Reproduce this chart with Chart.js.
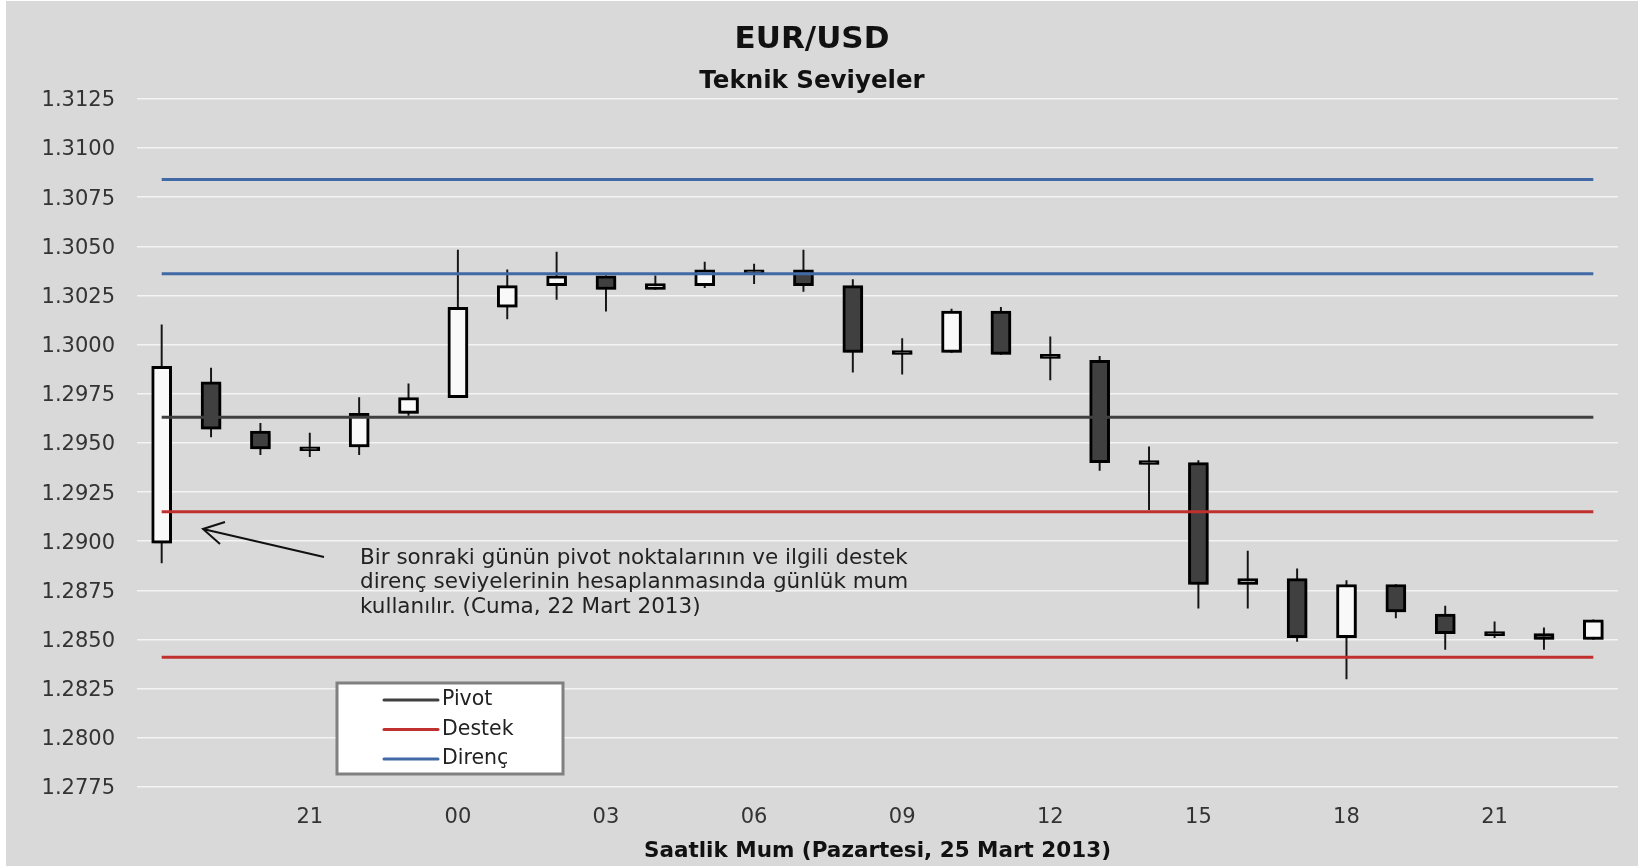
<!DOCTYPE html>
<html>
<head>
<meta charset="utf-8">
<script src="https://cdn.jsdelivr.net/npm/chart.js@4.4.1/dist/chart.umd.min.js"></script>
<style>
    html, body { margin: 0; padding: 0; background: #ffffff; }
    #wrap { position: absolute; left: 6px; top: 1px; width: 1632px; height: 865px; background: #d9d9d9; }
</style>
</head>
<body>
<div id="wrap"><canvas id="pivotChart"></canvas></div>
<script>
// ilk mum: günlük mum (Cuma, 22 Mart 2013), sonrakiler saatlik mumlar
const saatler = ['Cuma', '19', '20', '21', '22', '23', '00', '01', '02', '03', '04', '05', '06', '07', '08',
                 '09', '10', '11', '12', '13', '14', '15', '16', '17', '18', '19', '20', '21', '22', '23'];

const acilis = [1.2899, 1.2981, 1.2956, 1.2948, 1.2948, 1.2965, 1.2973, 1.3019, 1.3030, 1.3035,
                1.3028, 1.3030, 1.3038, 1.3038, 1.3030, 1.2997, 1.2996, 1.3017, 1.2995, 1.2992,
                1.2941, 1.2940, 1.2878, 1.2881, 1.2851, 1.2878, 1.2863, 1.2854, 1.2853, 1.2850];
const yuksek = [1.3010, 1.2988, 1.2960, 1.2955, 1.2973, 1.2980, 1.3048, 1.3038, 1.3047, 1.3035,
                1.3035, 1.3042, 1.3041, 1.3048, 1.3033, 1.3003, 1.3018, 1.3019, 1.3004, 1.2994,
                1.2948, 1.2941, 1.2895, 1.2886, 1.2880, 1.2878, 1.2867, 1.2859, 1.2856, 1.2860];
const dusuk  = [1.2889, 1.2953, 1.2944, 1.2943, 1.2944, 1.2964, 1.2973, 1.3013, 1.3023, 1.3017,
                1.3028, 1.3029, 1.3031, 1.3027, 1.2986, 1.2985, 1.2996, 1.2995, 1.2982, 1.2936,
                1.2916, 1.2866, 1.2866, 1.2849, 1.2830, 1.2861, 1.2845, 1.2851, 1.2845, 1.2850];
const kapanis = [1.2989, 1.2957, 1.2947, 1.2946, 1.2965, 1.2973, 1.3019, 1.3030, 1.3035, 1.3028,
                 1.3031, 1.3038, 1.3036, 1.3030, 1.2996, 1.2995, 1.3017, 1.2995, 1.2993, 1.2940,
                 1.2939, 1.2878, 1.2881, 1.2851, 1.2878, 1.2864, 1.2853, 1.2852, 1.2850, 1.2860];

const pivot = 1.2963;
const destek = [1.2915, 1.2841];
const direnc = [1.3036, 1.3084];

const yTicks = { min: 1.2775, max: 1.3125, step: 0.0025 };

const notSatirlari = [
    'Bir sonraki günün pivot noktalarının ve ilgili destek',
    'direnç seviyelerinin hesaplanmasında günlük mum',
    'kullanılır. (Cuma, 22 Mart 2013)'
];

const FONT = "'DejaVu Sans', Verdana, sans-serif";
const KOYU = '#404040', KIRMIZI = '#c0302f', MAVI = '#4169a5';

const seviye = (etiket, deger, renk, legend) => ({
    type: 'line',
    label: etiket,
    legendLabel: legend,
    data: saatler.map(() => deger),
    borderColor: renk,
    borderWidth: 3,
    pointRadius: 0,
    order: 0
});

// mum gövdelerine hafif gölge
const golge = {
    id: 'golge',
    beforeDatasetDraw(chart, args) {
        if (chart.data.datasets[args.index].id !== 'govde') return;
        const ctx = chart.ctx;
        ctx.save();
        ctx.shadowColor = 'rgba(0,0,0,0.35)';
        ctx.shadowOffsetX = 2;
        ctx.shadowOffsetY = 2;
        ctx.shadowBlur = 3;
    },
    afterDatasetDraw(chart, args) {
        if (chart.data.datasets[args.index].id !== 'govde') return;
        chart.ctx.restore();
    }
};

const aciklama = {
    id: 'aciklama',
    afterDatasetsDraw(chart) {
        const ctx = chart.ctx;
        ctx.save();
        // ok
        ctx.strokeStyle = '#111';
        ctx.lineWidth = 2;
        ctx.beginPath();
        ctx.moveTo(318, 556);
        ctx.lineTo(197, 528);
        ctx.moveTo(219, 521);
        ctx.lineTo(197, 528);
        ctx.lineTo(214, 543);
        ctx.stroke();
        // metin
        ctx.fillStyle = '#222';
        ctx.font = '21.5px ' + FONT;
        ctx.textAlign = 'left';
        ctx.textBaseline = 'alphabetic';
        notSatirlari.forEach((s, i) => ctx.fillText(s, 354, 562.5 + i * 24.7));
        ctx.restore();
    }
};

const legendKutusu = {
    id: 'legendKutusu',
    afterDraw(chart) {
        const ctx = chart.ctx;
        const items = chart.data.datasets.filter(d => d.legendLabel);
        const x = 331, y = 682, w = 226, h = 91;
        ctx.save();
        ctx.fillStyle = '#ffffff';
        ctx.fillRect(x, y, w, h);
        ctx.strokeStyle = '#808080';
        ctx.lineWidth = 3;
        ctx.strokeRect(x, y, w, h);
        ctx.font = '20.5px ' + FONT;
        ctx.textBaseline = 'middle';
        ctx.fillStyle = '#222';
        items.forEach((d, i) => {
            const yy = y + 17 + i * 29.5;
            ctx.strokeStyle = d.borderColor;
            ctx.lineWidth = 3;
            ctx.lineCap = 'round';
            ctx.beginPath();
            ctx.moveTo(378, yy);
            ctx.lineTo(432, yy);
            ctx.stroke();
            ctx.fillText(d.label, 436, yy);
        });
        ctx.restore();
    }
};

const ctx = document.getElementById('pivotChart').getContext('2d');

window.pivotChart = new Chart(ctx, {
    type: 'bar',
    data: {
        labels: saatler,
        datasets: [
            seviye('Pivot', pivot, KOYU, true),
            seviye('Destek', destek[0], KIRMIZI, true),
            seviye('Destek 2', destek[1], KIRMIZI, false),
            seviye('Direnç', direnc[0], MAVI, true),
            seviye('Direnç 2', direnc[1], MAVI, false),
            {
                id: 'govde',
                label: 'Gövde',
                data: acilis.map((o, i) => [o, kapanis[i]]),
                backgroundColor: acilis.map((o, i) => kapanis[i] > o ? '#f9f9f9' : KOYU),
                borderColor: '#000000',
                borderWidth: 3,
                borderSkipped: false,
                barThickness: 20,
                grouped: false,
                order: 1
            },
            {
                label: 'Fitil',
                data: dusuk.map((l, i) => [l, yuksek[i]]),
                backgroundColor: '#151515',
                borderWidth: 0,
                barThickness: 1.3,
                grouped: false,
                order: 2
            }
        ]
    },
    options: {
        responsive: true,
        maintainAspectRatio: false,
        animation: false,
        layout: { padding: { left: 0, right: 20, top: 0, bottom: 0 } },
        plugins: {
            legend: { display: false },
            tooltip: { enabled: false },
            title: {
                display: true,
                text: 'EUR/USD',
                color: '#111',
                font: { family: FONT, size: 31, weight: 'bold' },
                padding: { top: 20, bottom: 3 }
            },
            subtitle: {
                display: true,
                text: 'Teknik Seviyeler',
                color: '#111',
                font: { family: FONT, size: 24.5, weight: 'bold' },
                padding: { top: 6, bottom: 2.2 }
            }
        },
        scales: {
            x: {
                grid: { display: false },
                border: { display: false },
                ticks: {
                    color: '#333',
                    font: { family: FONT, size: 21 },
                    padding: 10,
                    autoSkip: false,
                    maxRotation: 0,
                    callback: function (v, i) {
                        return (i > 0 && i % 3 === 0) ? this.getLabelForValue(v) : '';
                    }
                },
                title: {
                    display: true,
                    text: 'Saatlik Mum (Pazartesi, 25 Mart 2013)',
                    color: '#111',
                    font: { family: FONT, size: 21.5, weight: 'bold' },
                    padding: { top: 0, bottom: 1.4 }
                },
                afterFit: (scale) => { scale.height = 79; }
            },
            y: {
                min: yTicks.min,
                max: yTicks.max,
                grid: { color: '#f4f4f4', lineWidth: 1.5, drawTicks: false },
                border: { display: false },
                ticks: {
                    stepSize: yTicks.step,
                    color: '#333',
                    font: { family: FONT, size: 21 },
                    padding: 22,
                    labelOffset: 2,
                    callback: (v) => v.toFixed(4)
                },
                afterFit: (scale) => { scale.width = 131; }
            }
        }
    },
    plugins: [golge, aciklama, legendKutusu]
});
</script>
</body>
</html>
